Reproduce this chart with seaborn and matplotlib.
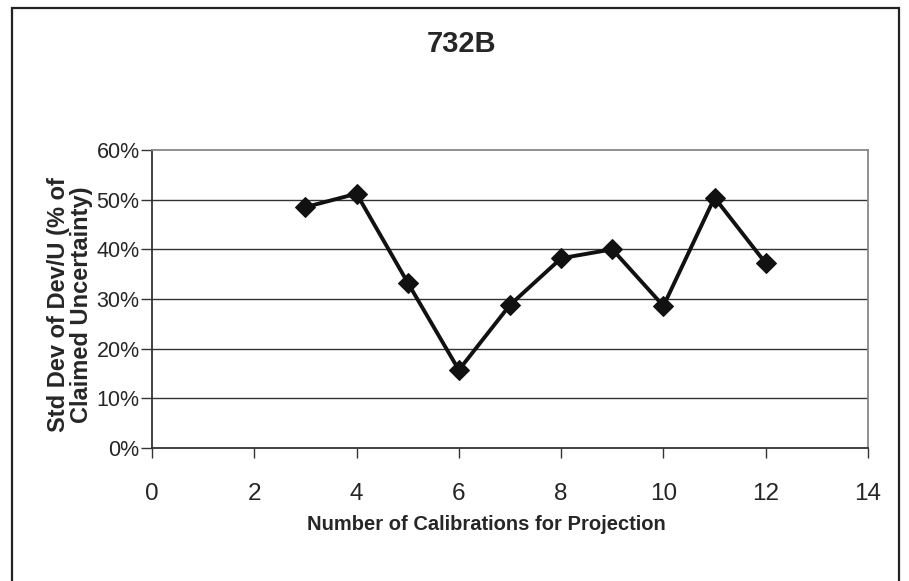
import matplotlib
matplotlib.use("Agg")
import matplotlib.pyplot as plt
import matplotlib.patches as mpatches
from matplotlib.ticker import PercentFormatter
import seaborn as sns

# values
calibrations = [3, 4, 5, 6, 7, 8, 9, 10, 11, 12]
std_dev = [0.485, 0.512, 0.333, 0.157, 0.288, 0.382, 0.400, 0.286, 0.504, 0.372]
x_ticks = [0, 2, 4, 6, 8, 10, 12, 14]
y_ticks = [0.0, 0.1, 0.2, 0.3, 0.4, 0.5, 0.6]

TITLE = "732B"
X_LABEL = "Number of Calibrations for Projection"
Y_LABEL = "Std Dev of Dev/U (% of\nClaimed Uncertainty)"

sns.set_style("white")
plt.rcParams["font.family"] = ["Liberation Sans", "DejaVu Sans"]

fig = plt.figure(figsize=(9.09, 5.81), dpi=100)
ax = fig.add_axes([152 / 909, 1 - 448 / 581, (868 - 152) / 909, (448 - 150) / 581])

# outer chart-area border (bottom edge runs off the canvas like the original)
fig.patches.append(
    mpatches.Rectangle(
        (12 / 909, -0.05), (899 - 12) / 909, 1 - 8 / 581 + 0.05,
        transform=fig.transFigure, fill=False, edgecolor="#222222", linewidth=1.6,
    )
)

for y in y_ticks[1:-1]:
    ax.axhline(y, color="#333333", linewidth=1.0, zorder=1)

sns.lineplot(
    x=calibrations, y=std_dev, ax=ax, color="#111111", linewidth=2.8,
    marker="D", markersize=10, markeredgecolor="#111111", markerfacecolor="#111111",
    zorder=3,
)

ax.set_xlim(0, 14)
ax.set_ylim(0, 0.6)
ax.set_xticks(x_ticks)
ax.set_yticks(y_ticks)
ax.yaxis.set_major_formatter(PercentFormatter(1.0, decimals=0))
ax.tick_params(axis="x", direction="out", length=7, width=1, color="#333333",
               labelsize=17.5, pad=18)
ax.tick_params(axis="y", direction="out", length=8, width=1, color="#333333",
               labelsize=15.5, pad=1)
ax.tick_params(left=True, bottom=True)

for side in ["left", "bottom"]:
    ax.spines[side].set_color("#333333")
    ax.spines[side].set_linewidth(1.3)
for side in ["top", "right"]:
    ax.spines[side].set_visible(True)
    ax.spines[side].set_color("#888888")
    ax.spines[side].set_linewidth(1.3)

ax.set_xlabel("")
ax.set_ylabel("")
fig.text(462 / 909, 1 - 44 / 581, TITLE, ha="center", va="center",
         fontsize=21, fontweight="bold")
fig.text(486 / 909, 1 - 524 / 581, X_LABEL, ha="center", va="center",
         fontsize=14.5, fontweight="bold")
fig.text(70 / 909, 1 - 305 / 581, Y_LABEL, ha="center", va="center",
         rotation=90, fontsize=17, fontweight="bold", linespacing=1.0)

fig.savefig("out.png", dpi=100)
